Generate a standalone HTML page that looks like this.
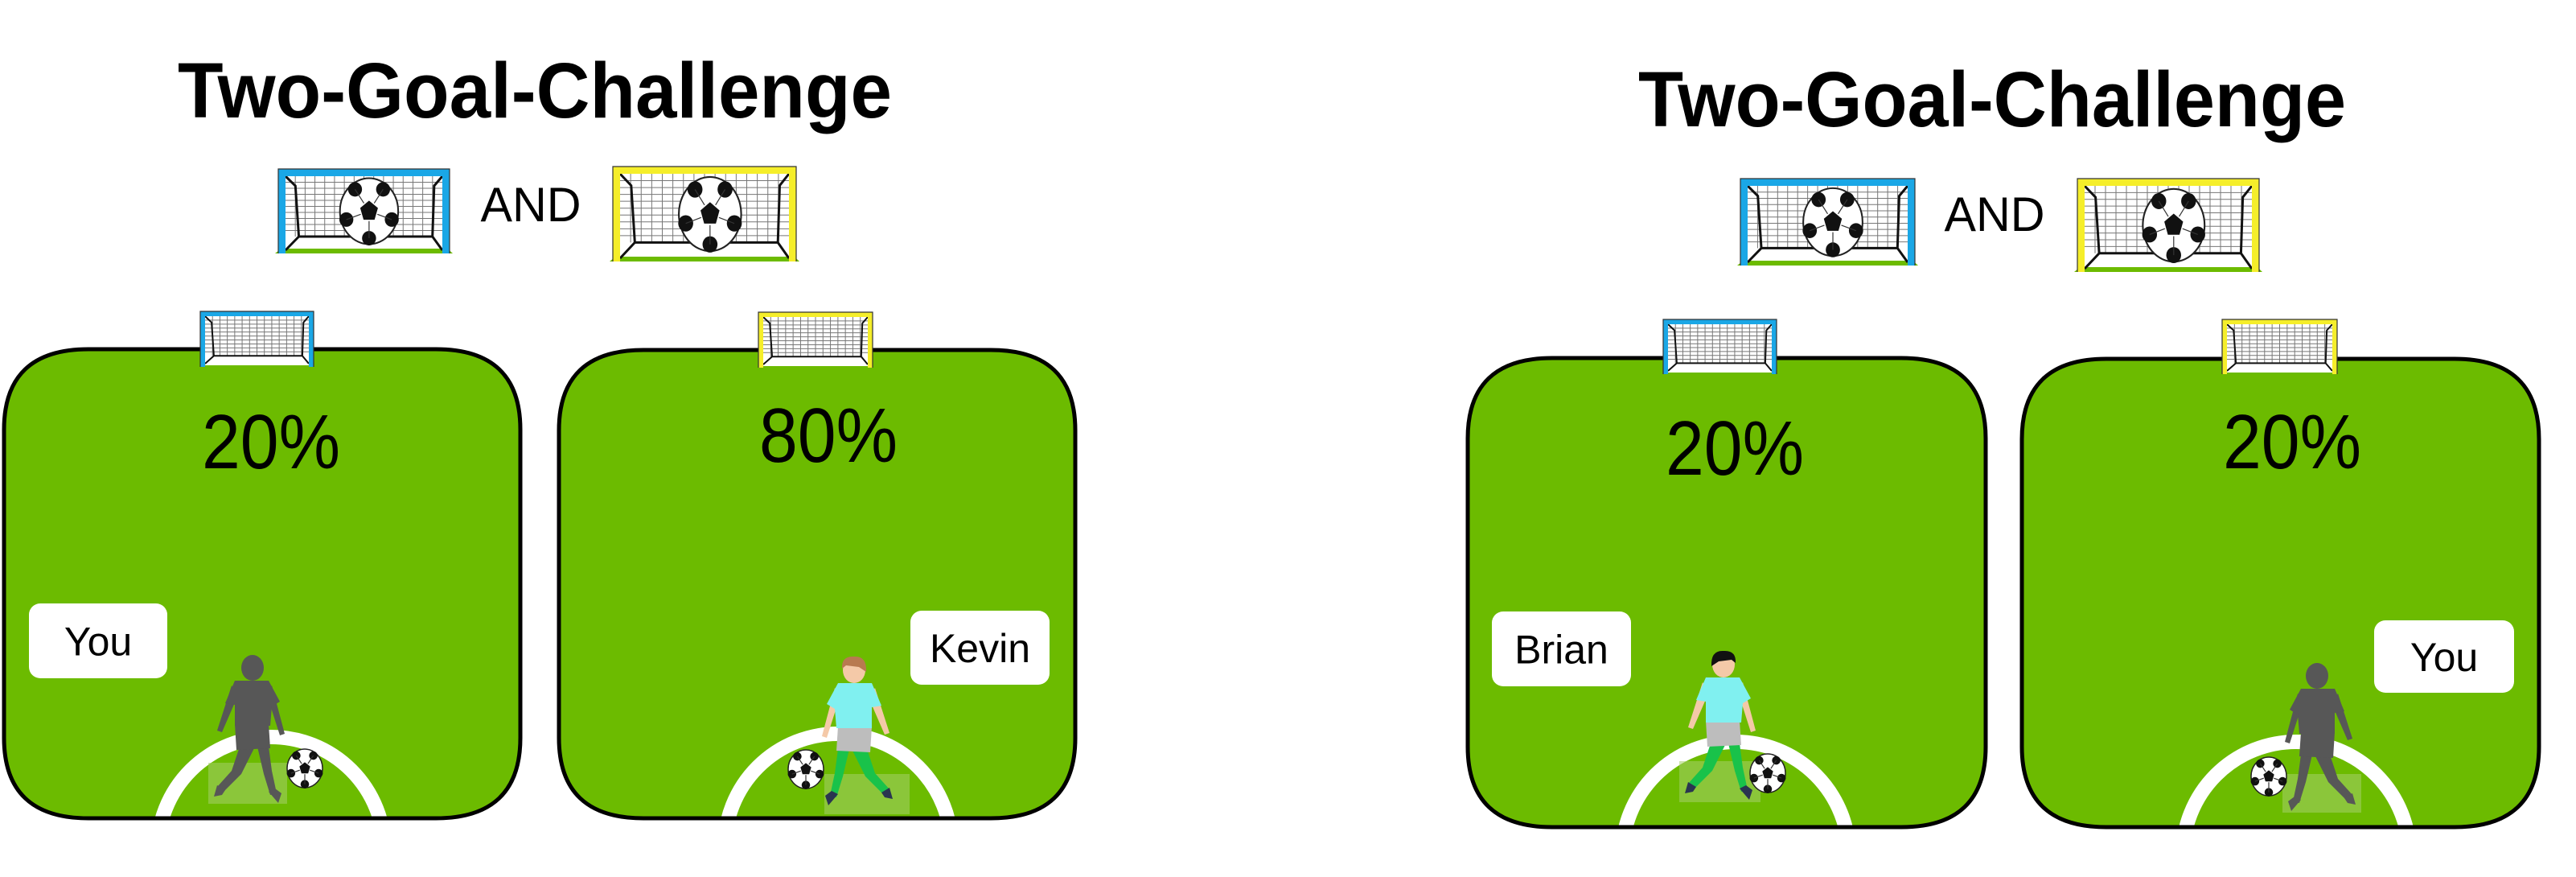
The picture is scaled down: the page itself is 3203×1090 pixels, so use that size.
<!DOCTYPE html>
<html><head><meta charset="utf-8">
<style>html,body{margin:0;padding:0;background:#fff;width:3203px;height:1090px;overflow:hidden;}svg{display:block;}</style>
</head><body>
<svg id="s" xmlns="http://www.w3.org/2000/svg" width="3203" height="1090" viewBox="0 0 3203 1090">
<defs></defs>
</svg>
<script>
const percents = [20, 80, 20, 20];
const playerNames = ["You", "Kevin", "Brian", "You"];
const goalColors = ["#1aa7e6", "#f5ee2a", "#1aa7e6", "#f5ee2a"];

const NS = "http://www.w3.org/2000/svg";
const svg = document.getElementById('s');
function el(tag, attrs, parent) {
  const e = document.createElementNS(NS, tag);
  for (const k in attrs) e.setAttribute(k, attrs[k]);
  (parent || svg).appendChild(e);
  return e;
}

function ball(cx, cy, rx, ry, parent) {
  const g = el('g', {}, parent);
  
  
  el('ellipse', {cx, cy, rx, ry, fill: '#fff', stroke: '#222', 'stroke-width': Math.max(1.5, rx / 18)}, g);
  const pts = [];
  for (let i = 0; i < 5; i++) {
    const a = -Math.PI / 2 + i * 2 * Math.PI / 5;
    pts.push((cx + Math.cos(a) * rx * 0.32) + ',' + (cy + Math.sin(a) * ry * 0.32));
  }
  el('polygon', {points: pts.join(' '), fill: '#111'}, g);
  for (let i = 0; i < 5; i++) {
    const a = -Math.PI / 2 + Math.PI / 5 + i * 2 * Math.PI / 5;
    const px = cx + Math.cos(a) * rx * 0.82, py = cy + Math.sin(a) * ry * 0.82;
    el('ellipse', {cx: px, cy: py, rx: rx * 0.24, ry: ry * 0.22, fill: '#111'}, g);
    el('line', {x1: cx + Math.cos(a) * rx * 0.3, y1: cy + Math.sin(a) * ry * 0.3, x2: px, y2: py, stroke: '#333', 'stroke-width': 1.2}, g);
  }
  return g;
}

function goal(x0, y0, x1, y1, color, big, name) {
  const g = el('g', {});
  
  
  const w = x1 - x0, h = y1 - y0;
  const post = big ? 9 : 6;
  if (big) el('path', {d: `M${x0-4},${y1} L${x0+w*0.12},${y1-h*0.22} L${x1-w*0.1},${y1-h*0.22} L${x1+4},${y1} Z`, fill: '#6cbb00'}, g);
  el('rect', {x: x0 + post, y: y0 + post, width: w - 2 * post, height: h - post - (big ? 6 : 2), fill: '#fff'}, g);
  const n = big ? 16 : 14;
  for (let i = 1; i < n; i++) {
    const xx = x0 + post + (w - 2 * post) * i / n;
    el('line', {x1: xx, y1: y0 + post, x2: xx, y2: y1 - h * 0.2, stroke: '#777', 'stroke-width': 1}, g);
  }
  for (let i = 1; i < 10; i++) {
    const yy = y0 + post + (h * 0.8 - post) * i / 10;
    el('line', {x1: x0 + post, y1: yy, x2: x1 - post, y2: yy, stroke: '#777', 'stroke-width': 1}, g);
  }
  el('path', {d: `M${x0+post},${y0+post} L${x0+w*0.1},${y0+h*0.2} L${x0+w*0.12},${y1-h*0.2} L${x1-w*0.1},${y1-h*0.2} L${x1-w*0.09},${y0+h*0.2} L${x1-post},${y0+post} M${x0+w*0.12},${y1-h*0.2} L${x0+post},${y1-4} M${x1-w*0.1},${y1-h*0.2} L${x1-post},${y1-4}`, fill: 'none', stroke: '#111', 'stroke-width': big ? 3 : 2}, g);
  el('path', {d: `M${x0+post/2},${y1} L${x0+post/2},${y0+post/2} L${x1-post/2},${y0+post/2} L${x1-post/2},${y1}`, fill: 'none', stroke: color, 'stroke-width': post}, g);
  el('path', {d: `M${x0},${y1} L${x0},${y0} L${x1},${y0} L${x1},${y1}`, fill: 'none', stroke: '#333', 'stroke-width': 1.2}, g);
  if (big) ball(x0 + w * 0.53, y0 + h * 0.5, w * 0.17, h * 0.39, g);
  return g;
}

function player(hx, hy, flip, colored, hair, parent) {
  const g = el('g', {transform: `translate(${hx},${hy}) scale(${flip ? -1 : 1},1)`}, parent);
  
  
  const gray = '#575757';
  const skin = colored ? '#f4c9a8' : gray, shirt = colored ? '#80f0f0' : gray, shorts = colored ? '#bdbdbd' : gray;
  const sock = colored ? '#19c24a' : gray, shoe = colored ? '#2a3550' : gray;
  el('path', {d: 'M-26,22 L-44,78 L-38,80 L-18,34 Z', fill: skin}, g);
  el('path', {d: 'M24,22 L40,82 L34,84 L18,34 Z', fill: skin}, g);
  el('path', {d: 'M-16,98 L-26,128 L-44,148 L-36,154 L-14,132 L2,100 Z', fill: sock}, g);
  el('path', {d: 'M6,98 L14,132 L22,158 L30,156 L24,128 L20,98 Z', fill: sock}, g);
  el('path', {d: 'M-44,146 L-48,160 L-38,158 L-34,152 Z', fill: shoe}, g);
  el('path', {d: 'M20,154 L32,168 L36,156 L28,150 Z', fill: shoe}, g);
  el('path', {d: 'M-22,70 L20,70 L22,100 L-20,102 Z', fill: shorts}, g);
  el('path', {d: 'M-22,16 L20,16 L34,42 L24,48 L22,72 L-22,72 L-22,46 L-34,44 Z', fill: shirt}, g);
  el('ellipse', {cx: 0, cy: 0, rx: 14, ry: 16, fill: colored ? skin : gray}, g);
  if (colored) el('path', {d: 'M-15,2 Q-16,-18 0,-17 Q16,-18 15,-2 L10,-6 L-6,-4 Z', fill: hair}, g);
  return g;
}

const fields = [
  {x0: 5, x1: 647, y0: 434, y1: 1017, gx0: 249, gx1: 390, gy0: 387, gy1: 456, tx: 337, ty: 582,
   lab: [36, 208, 750, 843], arcx: 337, arcTop: 907, head: [314, 830, false, false, ''], ball: [379, 955], box: [259, 357, 948, 999]},
  {x0: 695, x1: 1337, y0: 435, y1: 1017, gx0: 943, gx1: 1085, gy0: 388, gy1: 457, tx: 1030, ty: 574,
   lab: [1132, 1305, 759, 851], arcx: 1042, arcTop: 903, head: [1062, 833, true, true, '#b87a50'], ball: [1002, 956], box: [1025, 1131, 962, 1012]},
  {x0: 1825, x1: 2469, y0: 445, y1: 1028, gx0: 2068, gx1: 2209, gy0: 397, gy1: 465, tx: 2157, ty: 590,
   lab: [1855, 2028, 760, 853], arcx: 2158, arcTop: 913, head: [2143, 826, false, true, '#111'], ball: [2198, 961], box: [2088, 2189, 946, 997]},
  {x0: 2514, x1: 3157, y0: 446, y1: 1028, gx0: 2763, gx1: 2906, gy0: 397, gy1: 465, tx: 2850, ty: 582,
   lab: [2952, 3126, 771, 861], arcx: 2855, arcTop: 913, head: [2881, 840, true, false, ''], ball: [2821, 965], box: [2838, 2936, 962, 1010]}
];

[[665, 146, 888], [2477, 157, 880]].forEach(t => {
  const e = el('text', {x: t[0], y: t[1], 'text-anchor': 'middle', 'font-family': '"Liberation Sans", sans-serif', 'font-weight': 'bold', 'font-size': 97, textLength: t[2], lengthAdjust: 'spacingAndGlyphs', fill: '#000'});
  e.textContent = 'Two-Goal-Challenge';
  
  
});
goal(346, 210, 559, 315, '#1aa7e6', true, 'header-blue-goal-icon');
goal(762, 207, 990, 325, '#f5ee2a', true, 'header-yellow-goal-icon');
goal(2164, 222, 2381, 330, '#1aa7e6', true, 'header-blue-goal-icon');
goal(2583, 222, 2809, 338, '#f5ee2a', true, 'header-yellow-goal-icon');
[[660, 275], [2480, 287]].forEach(t => {
  const e = el('text', {x: t[0], y: t[1], 'text-anchor': 'middle', 'font-family': '"Liberation Sans", sans-serif', 'font-size': 60, textLength: 125, lengthAdjust: 'spacingAndGlyphs', fill: '#000'});
  e.textContent = 'AND';
  
  
});

fields.forEach((f, i) => {
  const g = el('g', {});
  
  
  const rx = 105, ry = 100;
  const d = `M${f.x0+rx},${f.y0} L${f.x1-rx},${f.y0} Q${f.x1},${f.y0} ${f.x1},${f.y0+ry} L${f.x1},${f.y1-ry} Q${f.x1},${f.y1} ${f.x1-rx},${f.y1} L${f.x0+rx},${f.y1} Q${f.x0},${f.y1} ${f.x0},${f.y1-ry} L${f.x0},${f.y0+ry} Q${f.x0},${f.y0} ${f.x0+rx},${f.y0} Z`;
  const cid = 'fc' + i;
  const cp = el('clipPath', {id: cid}, svg.querySelector('defs'));
  el('path', {d}, cp);
  const fieldShape = el('path', {d, fill: '#6cbb00'}, g);
  
  
  const inner = el('g', {'clip-path': `url(#${cid})`}, g);
  const arc = el('circle', {cx: f.arcx, cy: f.arcTop + 150, r: 141, fill: 'none', stroke: '#fff', 'stroke-width': 18}, inner);
  
  
  el('rect', {x: f.box[0], y: f.box[2], width: f.box[1] - f.box[0], height: f.box[3] - f.box[2], fill: '#a6cf6a', opacity: 0.55}, inner);
  const h = f.head;
  player(h[0], h[1], h[2], h[3], h[4], inner);
  ball(f.ball[0], f.ball[1], 22, 24, inner);
  el('path', {d, fill: 'none', stroke: '#000', 'stroke-width': 5}, g);

  goal(f.gx0, f.gy0, f.gx1, f.gy1, goalColors[i], false, 'field-goal');

  const pt = el('text', {x: f.tx, y: f.ty, 'text-anchor': 'middle', 'font-family': '"Liberation Sans", sans-serif', 'font-size': 96, textLength: 172, lengthAdjust: 'spacingAndGlyphs', fill: '#000'}, g);
  pt.textContent = percents[i] + '%';
  
  

  const L = f.lab;
  const box = el('rect', {x: L[0], y: L[2], width: L[1] - L[0], height: L[3] - L[2], rx: 14, fill: '#fff'}, g);
  
  
  const nm = el('text', {x: (L[0] + L[1]) / 2, y: (L[2] + L[3]) / 2 + 18, 'text-anchor': 'middle', 'font-family': '"Liberation Sans", sans-serif', 'font-size': 50, fill: '#000'}, g);
  nm.textContent = playerNames[i];
  
  
});
</script>
</body></html>
